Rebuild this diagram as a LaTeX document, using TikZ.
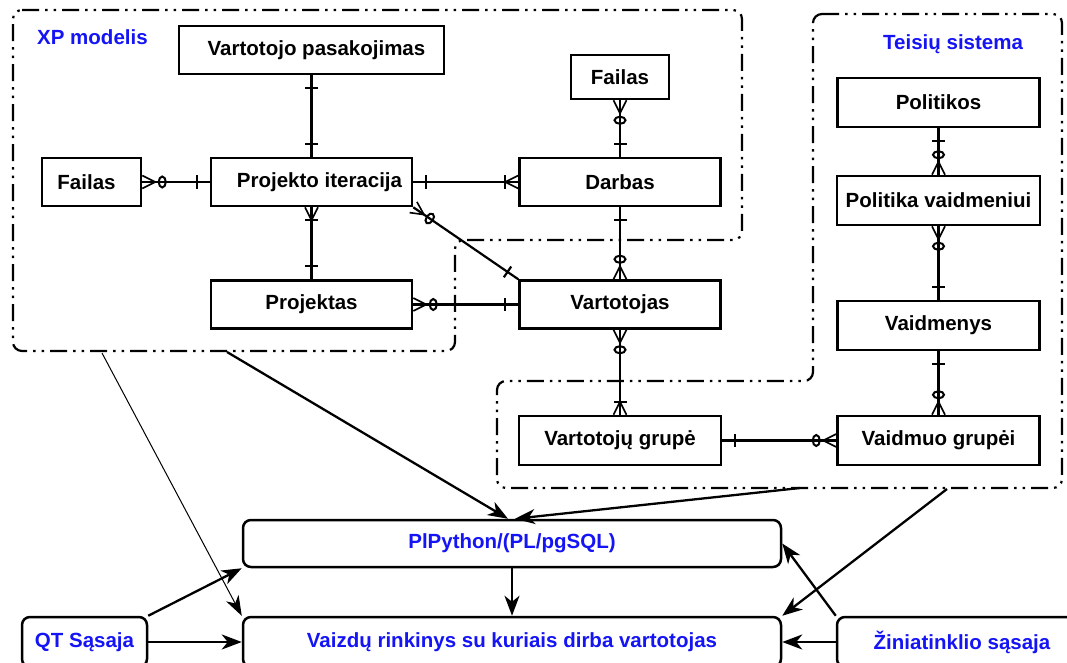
\documentclass[tikz,border=0pt]{standalone}
\usepackage{fontspec}
\setmainfont{Liberation Sans}
\usetikzlibrary{arrows.meta,decorations.markings}

\definecolor{labelblue}{RGB}{20,20,245}
\newcommand\entfont{\fontsize{20.5}{24}\selectfont\bfseries}

\tikzset{
  % entity boxes of the ER model
  ent/.style={draw, line width=2.5pt, fill=white, inner sep=0pt, font=\entfont},
  % rounded boxes of the software layers
  iface/.style={draw, line width=2.5pt, fill=white, rounded corners=8pt, inner sep=0pt,
                font=\entfont, text=labelblue},
  % dash-dot-dot outline of a subsystem
  frame/.style={line width=2.2pt, rounded corners=9pt,
                dash pattern=on 17pt off 6pt on 2.5pt off 6pt on 2.5pt off 6pt},
  grouplabel/.style={font=\entfont, text=labelblue, inner sep=0pt, anchor=base west},
  conn/.style={line width=2.2pt},
  flow/.style={line width=2.3pt, -{Stealth[length=20pt,width=15pt,inset=6pt]}},
  thinflow/.style={line width=1pt, -{Stealth[length=20pt,width=14pt,inset=6pt]}},
  % cardinality symbols; A = at the start of the line, B = at its end
  barA/.style={postaction={decorate,decoration={markings,
      mark=at position 13pt with {\draw[line width=2.2pt] (0,-6.5)--(0,6.5);}}}},
  barB/.style={postaction={decorate,decoration={markings,
      mark=at position -13pt with {\draw[line width=2.2pt] (0,-6.5)--(0,6.5);}}}},
  ringA/.style={postaction={decorate,decoration={markings,
      mark=at position 20pt with {\draw[line width=2pt] (0,0) ellipse [x radius=3.5, y radius=5.5];}}}},
  ringB/.style={postaction={decorate,decoration={markings,
      mark=at position -20pt with {\draw[line width=2pt] (0,0) ellipse [x radius=3.5, y radius=5.5];}}}},
  crowA/.style={postaction={decorate,decoration={markings,
      mark=at position 13pt with {\draw[line width=1.6pt] (-13,6.5)--(0,0)--(-13,-6.5);}}}},
  crowB/.style={postaction={decorate,decoration={markings,
      mark=at position -13pt with {\draw[line width=1.6pt] (13,6.5)--(0,0)--(13,-6.5);}}}},
  zmA/.style={crowA, ringA},
  zmB/.style={crowB, ringB},
  omA/.style={crowA, barA},
  omB/.style={crowB, barB},
}

\begin{document}
\begin{tikzpicture}[x=1pt, y=-1pt]
\useasboundingbox (0,0) rectangle (1067,663);
\clip (0,0) rectangle (1067,663);
\fill[white] (0,0) rectangle (1067,663);

% subsystem outlines
\draw[frame] (13,10) -- (742,10) -- (742,240) -- (455,240) -- (455,351) -- (13,351) -- cycle;
\draw[frame] (813,14) -- (1062,14) -- (1062,488) -- (497,488) -- (497,381) -- (813,381) -- cycle;
\node[grouplabel] (xplab) at (37,45) {XP modelis};
\node[grouplabel] (tslab) at (883,50) {Teisių sistema};

% XP model entities
\node[ent, minimum width=265pt, minimum height=48pt] (vp) at (311.5,50) {\hspace*{10pt}Vartotojo pasakojimas};
\node[ent, minimum width=99pt,  minimum height=48pt] (fl) at (91.5,182) {Failas\hspace*{10pt}};
\node[ent, minimum width=201pt, minimum height=48pt] (pi) at (311.5,182) {\hspace*{16pt}Projekto iteracija};
\node[ent, minimum width=201pt, minimum height=48pt] (pr) at (311.5,304.5) {Projektas};
\node[ent, minimum width=98pt,  minimum height=44pt] (ft) at (620,77) {Failas};
\node[ent, minimum width=201pt, minimum height=48pt] (da) at (620,182) {Darbas};
\node[ent, minimum width=201pt, minimum height=48pt] (va) at (620,304.5) {Vartotojas};
\node[ent, minimum width=202pt, minimum height=49pt] (vg) at (620,440.5) {Vartotojų grupė};

% access rights entities
\node[ent, minimum width=202pt, minimum height=49pt] (po)  at (938.5,102.5) {Politikos};
\node[ent, minimum width=203pt, minimum height=49pt] (pv)  at (938.5,200.5) {Politika vaidmeniui};
\node[ent, minimum width=202pt, minimum height=49pt] (vm)  at (938.5,325.5) {Vaidmenys};
\node[ent, minimum width=202pt, minimum height=49pt] (vmg) at (938.5,440.5) {Vaidmuo grupėi};

% relationships
\draw[conn, barA, barB] (vp) -- (pi);
\draw[conn, zmA, barB]  (fl) -- (pi);
\draw[conn, barA, omB]  (pi) -- (da);
\draw[conn, omA, barB]  (pi) -- (pr);
\draw[conn, zmA, barB]  (pi.south east) -- (va.north west);
\draw[conn, zmA, barB]  (ft) -- (da);
\draw[conn, barA, zmB]  (da) -- (va);
\draw[conn, zmA, barB]  (pr) -- (va);
\draw[conn, zmA, omB]   (va) -- (vg);
\draw[conn, barA, zmB]  (po) -- (pv);
\draw[conn, zmA, barB]  (pv) -- (vm);
\draw[conn, barA, zmB]  (vm) -- (vmg);
\draw[conn, barA, zmB]  (vg) -- (vmg);

% software layers
\node[iface, minimum width=538pt, minimum height=47pt] (pl) at (512,543.5) {PlPython/(PL/pgSQL)};
\node[iface, minimum width=538pt, minimum height=50pt] (vz) at (512,642) {Vaizdų rinkinys su kuriais dirba vartotojas};
\node[iface, minimum width=125pt, minimum height=50pt] (qt) at (84.5,642) {QT Sąsaja};
\node[iface, minimum width=250pt, minimum height=50pt] (zs) at (962,642) {Žiniatinklio sąsaja};

\coordinate (xpA) at (102,353);
\coordinate (xpB) at (227,352);
\coordinate (tsA) at (800,488);
\coordinate (tsB) at (947,489);

\draw[thinflow] (xpA) -- (vz.north west);
\draw[flow] (xpB) -- ([xshift=-4pt]pl.north);
\draw[flow] (tsA) -- ([xshift=3pt]pl.north);
\draw[flow] (tsB) -- (vz.north east);
\draw[flow] (pl.south) -- (vz.north);
\draw[flow] (qt.north east) -- (pl.south west);
\draw[flow] (qt.east) -- (vz.west);
\draw[flow] (zs.north west) -- (pl.east);
\draw[flow] (zs.west) -- (vz.east);
\end{tikzpicture}
\end{document}
